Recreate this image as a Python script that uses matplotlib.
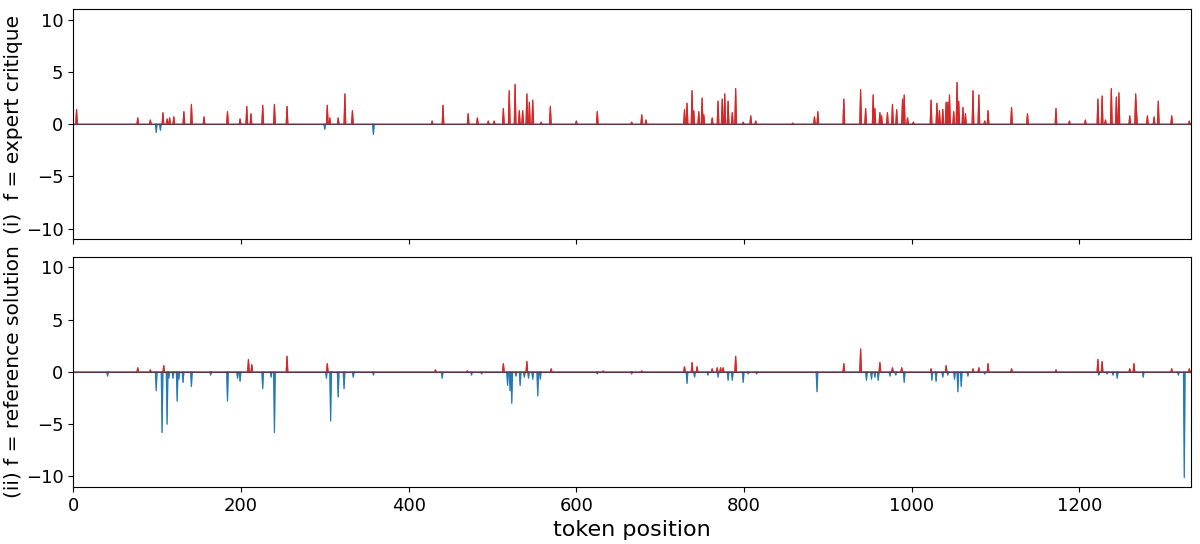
import numpy as np
import matplotlib
matplotlib.use('Agg')
import matplotlib.pyplot as plt

n_tokens = 1334

# (token, value) spikes, panel (i) expert critique
crit_pos = [4, 77, 92, 99, 104, 107, 112, 115, 120, 132, 141, 156, 184, 199, 207, 212, 226, 240, 255,
            300, 303, 306, 316, 324, 333, 358, 428, 441,
            471, 482, 495, 502, 513, 520, 527, 532, 536, 541, 544, 548, 558, 569, 600, 625, 666, 678, 683,
            729, 732, 738, 740, 746, 750, 752, 762, 769, 774, 777, 781, 786, 790, 799, 808, 814, 858, 884, 888,
            919, 939, 945, 954, 956, 962, 964, 971, 977, 982, 989, 991, 995, 1002, 1023, 1030, 1033, 1037,
            1041, 1043, 1045, 1050, 1054, 1056, 1061, 1064, 1073, 1080, 1087, 1091, 1119, 1138, 1172, 1188,
            1207, 1222, 1227, 1231, 1238, 1244, 1247, 1260, 1267, 1268, 1281, 1289, 1294, 1310, 1331]
crit_val = [1.4, 0.6, 0.4, -0.8, -0.6, 1.1, 0.5, 0.6, 0.7, 1.2, 1.9, 0.7, 1.2, 0.5, 1.7, 1.0, 1.8, 1.9, 1.7,
            -0.5, 1.8, 0.6, 0.6, 2.9, 1.3, -1.0, 0.3, 1.8,
            1.0, 0.6, 0.3, 0.3, 1.5, 3.2, 3.8, 1.3, 1.3, 2.9, 2.1, 2.3, 0.2, 1.7, 0.3, 1.2, 0.2, 0.9, 0.4,
            1.4, 2.0, 3.2, 1.3, 1.2, 2.5, 0.9, 0.6, 2.2, 2.4, 2.9, 2.2, 1.1, 3.4, 0.2, 0.8, 0.3, 0.1, 0.7, 1.2,
            2.4, 3.3, 1.5, 2.8, 1.5, 1.1, 0.8, 1.1, 1.9, 1.4, 2.4, 2.8, 0.6, 0.2, 2.3, 2.0, 1.3, 1.4,
            2.1, 2.1, 2.8, 1.2, 4.0, 2.2, 1.6, 1.0, 3.2, 2.8, 0.3, 1.3, 1.6, 1.0, 1.5, 0.3,
            0.4, 2.4, 2.7, 0.4, 3.4, 2.6, 3.0, 0.8, 2.9, 1.3, 0.8, 0.7, 2.2, 0.8, 0.3]

# panel (ii) reference solution
ref_pos = [41, 77, 92, 99, 106, 108, 112, 114, 119, 124, 126, 131, 141, 164, 184, 196, 199, 209, 213, 226, 236,
           240, 255, 302, 303, 307, 316, 323, 334, 358, 432, 440,
           470, 475, 487, 513, 518, 521, 523, 528, 533, 538, 541, 543, 548, 554, 557, 570, 625, 632, 666, 678,
           729, 732, 738, 741, 744, 757, 762, 768, 769, 772, 775, 781, 786, 790, 799, 805, 815, 887,
           919, 939, 946, 952, 956, 960, 962, 974, 977, 981, 988, 991, 1023, 1024, 1029, 1037, 1041, 1043,
           1051, 1055, 1059, 1067, 1073, 1080, 1087, 1091, 1119, 1172, 1222, 1223, 1227, 1233, 1240, 1245,
           1260, 1265, 1276, 1310, 1318, 1325, 1331]
ref_val = [-0.4, 0.4, 0.2, -1.8, -5.8, 0.6, -5.0, -0.6, -0.6, -2.8, -0.7, -1.0, -1.4, -0.3, -2.8, -0.6, -0.9,
           1.2, 0.7, -1.6, -0.5, -5.8, 1.5, -0.6, 0.8, -4.7, -2.4, -1.6, -0.5, -0.3, 0.2, -0.6,
           0.1, -0.3, -0.2, 0.8, -1.3, -1.8, -3.0, -0.4, -1.3, -0.5, 1.0, -0.6, -0.7, -2.3, -0.7, 0.3,
           -0.2, 0.1, -0.2, 0.1,
           0.5, -1.1, 0.9, -0.5, 0.5, -0.3, 0.3, 0.4, -0.5, 0.4, 0.4, -0.8, -0.8, 1.5, -1.0, -0.2, -0.2, -1.9,
           0.8, 2.2, -0.8, -0.7, -0.5, -0.8, 0.9, -0.4, 0.4, -0.3, 0.4, -1.0, 0.3, -0.8, -0.9, -0.5, 0.6, -0.3,
           -0.7, -1.9, -1.4, -0.4, 0.3, 0.4, -0.2, 0.8, 0.3, 0.2, 1.2, -0.3, 1.0, -0.2, -0.3, -0.6,
           0.3, 0.8, -0.5, 0.3, -0.3, -10.1, 0.3]

labels = ['(i)  f = expert critique', '(ii) f = reference solution']
RED = '#d62728'
BLUE = '#1f77b4'


def build(pos, val):
    y = np.zeros(n_tokens)
    y[np.array(pos)] = val
    return y


fig, axes = plt.subplots(2, 1, figsize=(12, 5.44), dpi=100, sharex=True)
fig.subplots_adjust(left=0.061, right=0.9925, top=0.983, bottom=0.105, hspace=0.078)
x = np.arange(n_tokens)
for ax, (pos, val), lab in zip(axes, [(crit_pos, crit_val), (ref_pos, ref_val)], labels):
    y = build(pos, val)
    ax.fill_between(x, 0, y, where=y > 0, interpolate=True, color=RED, alpha=0.9, lw=0.8)
    ax.fill_between(x, 0, y, where=y < 0, interpolate=True, color=BLUE, alpha=0.9, lw=0.8)
    ax.plot(x, np.clip(y, 0, None), color=RED, lw=0.8)
    ax.plot(x, np.clip(y, None, 0), color=BLUE, lw=0.8, alpha=0.6)
    ax.axhline(0, color='#5a3a4a', lw=0.8)
    ax.set_xlim(0, 1333)
    ax.set_ylim(-11, 11)
    ax.set_yticks([-10, -5, 0, 5, 10])
    ax.set_ylabel(lab, fontsize=14.5, labelpad=2)
    ax.tick_params(labelsize=13)
axes[1].set_xlabel('token position', fontsize=16)
fig.savefig('out.png')
